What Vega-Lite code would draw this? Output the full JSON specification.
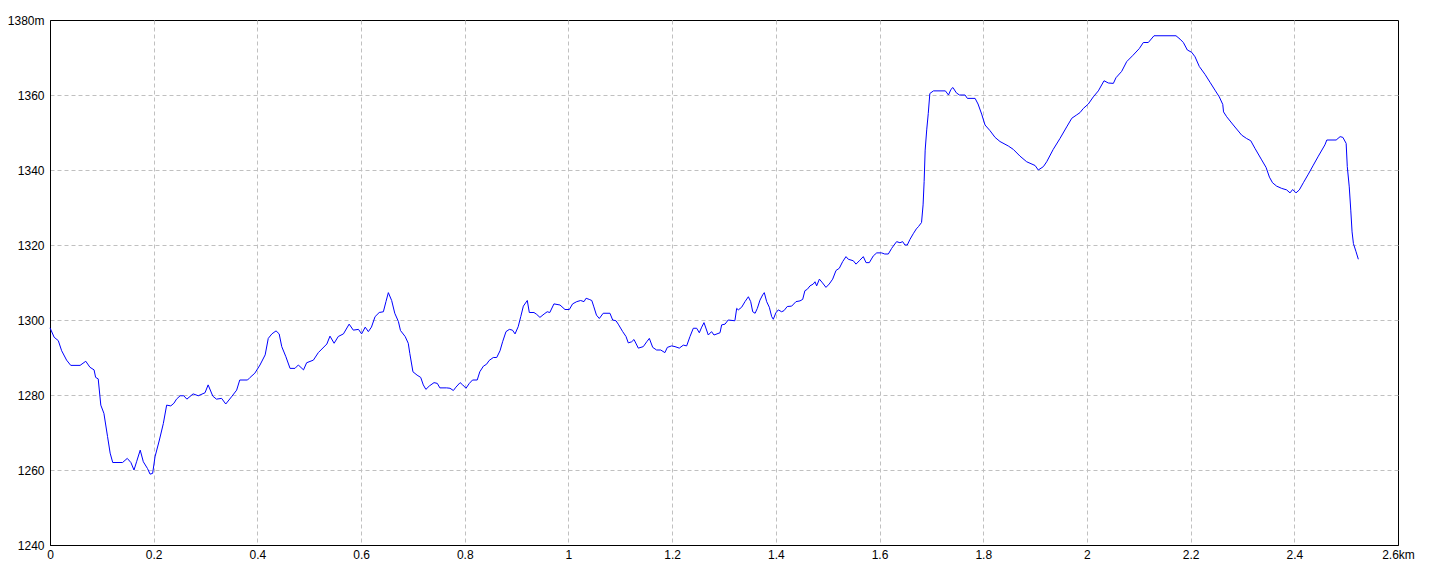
{
  "$schema": "https://vega.github.io/schema/vega-lite/v6.json",
  "width": 1348,
  "height": 525,
  "autosize": "none",
  "padding": {"left": 50, "top": 20, "right": 42, "bottom": 31},
  "background": "white",
  "config": {
    "view": {"stroke": "black", "strokeWidth": 1},
    "axis": {"labelFont": "Liberation Sans", "labelFontSize": 12, "labelColor": "black", "ticks": false, "domainColor": "black", "domainWidth": 1, "gridColor": "#c0c0c0", "gridDash": [4, 3], "gridWidth": 1, "title": null}
  },
  "data": {"values": [
    {"d":0,"e":1297.9},{"d":0.002,"e":1297.3},{"d":0.008,"e":1295.4},{"d":0.016,"e":1294.5},{"d":0.0225,"e":1291.8},{"d":0.032,"e":1289.3},{"d":0.04,"e":1287.9},{"d":0.058,"e":1287.9},{"d":0.069,"e":1289},{"d":0.077,"e":1287.4},{"d":0.085,"e":1286.7},{"d":0.088,"e":1284.7},{"d":0.093,"e":1284.3},{"d":0.098,"e":1277.3},{"d":0.104,"e":1275.1},{"d":0.111,"e":1268.9},{"d":0.116,"e":1264.5},{"d":0.121,"e":1262},{"d":0.14,"e":1262},{"d":0.149,"e":1263.1},{"d":0.156,"e":1262},{"d":0.162,"e":1260},{"d":0.167,"e":1262.2},{"d":0.174,"e":1265.3},{"d":0.18,"e":1262.2},{"d":0.188,"e":1260.4},{"d":0.193,"e":1258.9},{"d":0.198,"e":1259.1},{"d":0.2025,"e":1263.5},{"d":0.211,"e":1268},{"d":0.2186,"e":1272.4},{"d":0.225,"e":1277.3},{"d":0.233,"e":1277.1},{"d":0.239,"e":1277.8},{"d":0.244,"e":1278.9},{"d":0.251,"e":1279.8},{"d":0.258,"e":1279.8},{"d":0.264,"e":1278.9},{"d":0.276,"e":1280.3},{"d":0.286,"e":1279.8},{"d":0.299,"e":1280.6},{"d":0.305,"e":1282.7},{"d":0.314,"e":1279.7},{"d":0.321,"e":1278.9},{"d":0.331,"e":1279.1},{"d":0.339,"e":1277.6},{"d":0.35,"e":1279.5},{"d":0.36,"e":1281.3},{"d":0.366,"e":1284},{"d":0.381,"e":1284},{"d":0.386,"e":1284.7},{"d":0.395,"e":1285.8},{"d":0.405,"e":1288},{"d":0.415,"e":1290.7},{"d":0.421,"e":1295.1},{"d":0.428,"e":1296.3},{"d":0.436,"e":1297.1},{"d":0.442,"e":1296.3},{"d":0.447,"e":1292.9},{"d":0.455,"e":1290.2},{"d":0.463,"e":1287.1},{"d":0.4725,"e":1287.1},{"d":0.479,"e":1288},{"d":0.489,"e":1286.7},{"d":0.495,"e":1288.6},{"d":0.508,"e":1289.3},{"d":0.5175,"e":1291.3},{"d":0.534,"e":1293.6},{"d":0.54,"e":1295.7},{"d":0.548,"e":1293.8},{"d":0.556,"e":1295.6},{"d":0.566,"e":1296.3},{"d":0.577,"e":1298.9},{"d":0.585,"e":1297.3},{"d":0.595,"e":1297.5},{"d":0.601,"e":1296.3},{"d":0.608,"e":1298.1},{"d":0.614,"e":1296.9},{"d":0.62,"e":1298.1},{"d":0.627,"e":1300.9},{"d":0.635,"e":1302},{"d":0.643,"e":1302.2},{"d":0.648,"e":1304.9},{"d":0.6526,"e":1307.3},{"d":0.659,"e":1305.2},{"d":0.665,"e":1301.8},{"d":0.672,"e":1299.6},{"d":0.676,"e":1297.2},{"d":0.685,"e":1295.6},{"d":0.691,"e":1293.8},{"d":0.694,"e":1291.1},{"d":0.7,"e":1286.2},{"d":0.708,"e":1285.3},{"d":0.715,"e":1284.7},{"d":0.72,"e":1282.7},{"d":0.725,"e":1281.5},{"d":0.7316,"e":1282.4},{"d":0.7407,"e":1283.3},{"d":0.747,"e":1283.1},{"d":0.752,"e":1281.9},{"d":0.765,"e":1281.9},{"d":0.7715,"e":1281.8},{"d":0.778,"e":1281.2},{"d":0.783,"e":1282.1},{"d":0.791,"e":1283.3},{"d":0.796,"e":1282.7},{"d":0.8024,"e":1281.8},{"d":0.8088,"e":1283.1},{"d":0.815,"e":1284},{"d":0.824,"e":1284},{"d":0.829,"e":1286.2},{"d":0.836,"e":1287.7},{"d":0.842,"e":1288.2},{"d":0.847,"e":1289.2},{"d":0.855,"e":1290},{"d":0.8616,"e":1290},{"d":0.868,"e":1291.8},{"d":0.873,"e":1294.2},{"d":0.8795,"e":1296.9},{"d":0.886,"e":1297.5},{"d":0.892,"e":1297.3},{"d":0.897,"e":1296.3},{"d":0.903,"e":1298.2},{"d":0.908,"e":1300.9},{"d":0.913,"e":1303.7},{"d":0.9206,"e":1305.2},{"d":0.9245,"e":1302},{"d":0.9335,"e":1302},{"d":0.9387,"e":1301.5},{"d":0.945,"e":1300.7},{"d":0.953,"e":1301.6},{"d":0.959,"e":1302.2},{"d":0.964,"e":1302},{"d":0.972,"e":1304.3},{"d":0.9837,"e":1304},{"d":0.9933,"e":1302.8},{"d":1.0017,"e":1302.8},{"d":1.008,"e":1304.3},{"d":1.016,"e":1304.9},{"d":1.0235,"e":1305.2},{"d":1.03,"e":1304.9},{"d":1.034,"e":1305.8},{"d":1.04,"e":1305.5},{"d":1.045,"e":1305.2},{"d":1.049,"e":1303.5},{"d":1.054,"e":1301.3},{"d":1.0595,"e":1300.4},{"d":1.067,"e":1301.8},{"d":1.08,"e":1301.8},{"d":1.0853,"e":1300},{"d":1.0917,"e":1299.8},{"d":1.096,"e":1298.9},{"d":1.1046,"e":1296.9},{"d":1.111,"e":1295.6},{"d":1.1154,"e":1293.9},{"d":1.122,"e":1294.2},{"d":1.1264,"e":1294.8},{"d":1.1347,"e":1292.5},{"d":1.1443,"e":1292.9},{"d":1.151,"e":1294.2},{"d":1.156,"e":1295.1},{"d":1.1625,"e":1292.7},{"d":1.17,"e":1292},{"d":1.178,"e":1292},{"d":1.186,"e":1291.3},{"d":1.1907,"e":1292.7},{"d":1.199,"e":1293.1},{"d":1.2055,"e":1292.9},{"d":1.2138,"e":1292.5},{"d":1.2215,"e":1293.3},{"d":1.228,"e":1293.1},{"d":1.2344,"e":1295.6},{"d":1.2408,"e":1297.8},{"d":1.2473,"e":1297.8},{"d":1.2524,"e":1296.6},{"d":1.257,"e":1298.1},{"d":1.2614,"e":1299.3},{"d":1.2697,"e":1296},{"d":1.276,"e":1296.9},{"d":1.2807,"e":1296},{"d":1.2923,"e":1296.6},{"d":1.2955,"e":1298.7},{"d":1.302,"e":1298.9},{"d":1.308,"e":1300},{"d":1.321,"e":1299.8},{"d":1.3245,"e":1303.1},{"d":1.3276,"e":1302.7},{"d":1.334,"e":1303.4},{"d":1.3405,"e":1304.9},{"d":1.347,"e":1306.2},{"d":1.3515,"e":1304.9},{"d":1.3554,"e":1302.2},{"d":1.36,"e":1301.8},{"d":1.3643,"e":1303.1},{"d":1.3694,"e":1305.3},{"d":1.3746,"e":1306.7},{"d":1.3777,"e":1307.3},{"d":1.3823,"e":1304.9},{"d":1.3874,"e":1303.4},{"d":1.392,"e":1300.9},{"d":1.3951,"e":1300.2},{"d":1.4,"e":1301.9},{"d":1.4047,"e":1302.7},{"d":1.4112,"e":1302.2},{"d":1.4157,"e":1302.5},{"d":1.422,"e":1303.6},{"d":1.4305,"e":1303.7},{"d":1.4388,"e":1304.9},{"d":1.4466,"e":1305.1},{"d":1.4518,"e":1305.5},{"d":1.456,"e":1307.8},{"d":1.4607,"e":1308.2},{"d":1.4659,"e":1309.1},{"d":1.4722,"e":1309.6},{"d":1.4755,"e":1310.2},{"d":1.4787,"e":1309.1},{"d":1.484,"e":1310.9},{"d":1.49,"e":1309.9},{"d":1.4967,"e":1308.7},{"d":1.503,"e":1309.6},{"d":1.5096,"e":1310.9},{"d":1.516,"e":1313.2},{"d":1.5224,"e":1313.8},{"d":1.529,"e":1315.6},{"d":1.5353,"e":1316.9},{"d":1.5398,"e":1316.2},{"d":1.5494,"e":1315.8},{"d":1.5546,"e":1314.9},{"d":1.561,"e":1315.8},{"d":1.5687,"e":1316.9},{"d":1.574,"e":1315.3},{"d":1.5803,"e":1315.3},{"d":1.588,"e":1317.1},{"d":1.5946,"e":1317.9},{"d":1.604,"e":1317.9},{"d":1.61,"e":1317.6},{"d":1.6169,"e":1317.6},{"d":1.6234,"e":1319.1},{"d":1.628,"e":1320},{"d":1.633,"e":1320.9},{"d":1.6394,"e":1320.6},{"d":1.6446,"e":1320.9},{"d":1.649,"e":1320},{"d":1.6535,"e":1320},{"d":1.6587,"e":1321.5},{"d":1.665,"e":1323},{"d":1.671,"e":1324.3},{"d":1.675,"e":1324.9},{"d":1.681,"e":1326},{"d":1.684,"e":1330.7},{"d":1.686,"e":1336.9},{"d":1.688,"e":1345.3},{"d":1.691,"e":1350.7},{"d":1.694,"e":1355.1},{"d":1.697,"e":1360.4},{"d":1.704,"e":1361.1},{"d":1.727,"e":1361.1},{"d":1.733,"e":1360},{"d":1.7377,"e":1361.5},{"d":1.7416,"e":1362},{"d":1.748,"e":1360.6},{"d":1.754,"e":1360},{"d":1.7649,"e":1360},{"d":1.7694,"e":1359.1},{"d":1.7843,"e":1359.1},{"d":1.79,"e":1357.6},{"d":1.797,"e":1354.9},{"d":1.8035,"e":1352},{"d":1.813,"e":1350.5},{"d":1.8228,"e":1348.7},{"d":1.8323,"e":1347.6},{"d":1.8484,"e":1346.4},{"d":1.858,"e":1345.5},{"d":1.8709,"e":1343.7},{"d":1.8838,"e":1342.2},{"d":1.9,"e":1341.2},{"d":1.9062,"e":1340},{"d":1.916,"e":1340.9},{"d":1.9224,"e":1342.2},{"d":1.935,"e":1345.5},{"d":1.948,"e":1348.4},{"d":1.961,"e":1351.5},{"d":1.9708,"e":1353.8},{"d":1.9803,"e":1354.7},{"d":1.9866,"e":1355.3},{"d":1.993,"e":1356.4},{"d":2.0027,"e":1357.6},{"d":2.0123,"e":1359.5},{"d":2.022,"e":1361.1},{"d":2.033,"e":1363.8},{"d":2.0413,"e":1363.2},{"d":2.051,"e":1363.1},{"d":2.056,"e":1364.6},{"d":2.067,"e":1366.3},{"d":2.0767,"e":1368.9},{"d":2.0889,"e":1370.6},{"d":2.1011,"e":1372.4},{"d":2.1088,"e":1374},{"d":2.1184,"e":1374},{"d":2.1294,"e":1375.8},{"d":2.1718,"e":1375.8},{"d":2.1796,"e":1374.9},{"d":2.186,"e":1374},{"d":2.1937,"e":1372},{"d":2.202,"e":1371.4},{"d":2.2085,"e":1370.2},{"d":2.2168,"e":1367.6},{"d":2.2278,"e":1365.5},{"d":2.2374,"e":1363.4},{"d":2.247,"e":1361.3},{"d":2.2553,"e":1359.5},{"d":2.262,"e":1357.5},{"d":2.2635,"e":1355.5},{"d":2.2696,"e":1354.2},{"d":2.2823,"e":1352},{"d":2.2985,"e":1349.3},{"d":2.308,"e":1348.4},{"d":2.316,"e":1347.8},{"d":2.324,"e":1345.8},{"d":2.337,"e":1342.7},{"d":2.3455,"e":1340.7},{"d":2.352,"e":1338.1},{"d":2.358,"e":1336.6},{"d":2.3659,"e":1335.7},{"d":2.3756,"e":1335.1},{"d":2.3852,"e":1334.7},{"d":2.3917,"e":1333.9},{"d":2.3968,"e":1334.8},{"d":2.4033,"e":1333.9},{"d":2.4097,"e":1334.7},{"d":2.4174,"e":1336.6},{"d":2.4271,"e":1338.9},{"d":2.4367,"e":1341.3},{"d":2.4464,"e":1343.7},{"d":2.459,"e":1346.7},{"d":2.4627,"e":1348},{"d":2.4807,"e":1348},{"d":2.4884,"e":1348.9},{"d":2.4937,"e":1348.7},{"d":2.5,"e":1347.1},{"d":2.5022,"e":1340.9},{"d":2.506,"e":1335.5},{"d":2.5089,"e":1329.3},{"d":2.5114,"e":1323.5},{"d":2.514,"e":1320.4},{"d":2.5191,"e":1318.2},{"d":2.5235,"e":1316.2}
  ]},
  "mark": {"type": "line", "color": "#0000ff", "strokeWidth": 1, "interpolate": "linear"},
  "encoding": {
    "x": {
      "field": "d", "type": "quantitative",
      "scale": {"domain": [0, 2.6], "nice": false, "zero": false},
      "axis": {
        "values": [0, 0.2, 0.4, 0.6, 0.8, 1, 1.2, 1.4, 1.6, 1.8, 2, 2.2, 2.4, 2.6],
        "labelExpr": "datum.value > 2.55 ? '2.6km' : format(datum.value, '~g')",
        "labelPadding": 4,
        "labelFlush": false,
        "labelOverlap": false,
        "gridOpacity": {"condition": {"test": "datum.value < 0.01 || datum.value > 2.55", "value": 0}, "value": 1}
      }
    },
    "y": {
      "field": "e", "type": "quantitative",
      "scale": {"domain": [1240, 1380], "nice": false, "zero": false},
      "axis": {
        "values": [1240, 1260, 1280, 1300, 1320, 1340, 1360, 1380],
        "labelExpr": "datum.value == 1380 ? '1380m' : format(datum.value, 'd')",
        "labelPadding": 6,
        "labelFlush": false,
        "labelOverlap": false,
        "gridOpacity": {"condition": {"test": "datum.value == 1240 || datum.value == 1380", "value": 0}, "value": 1}
      }
    }
  }
}
